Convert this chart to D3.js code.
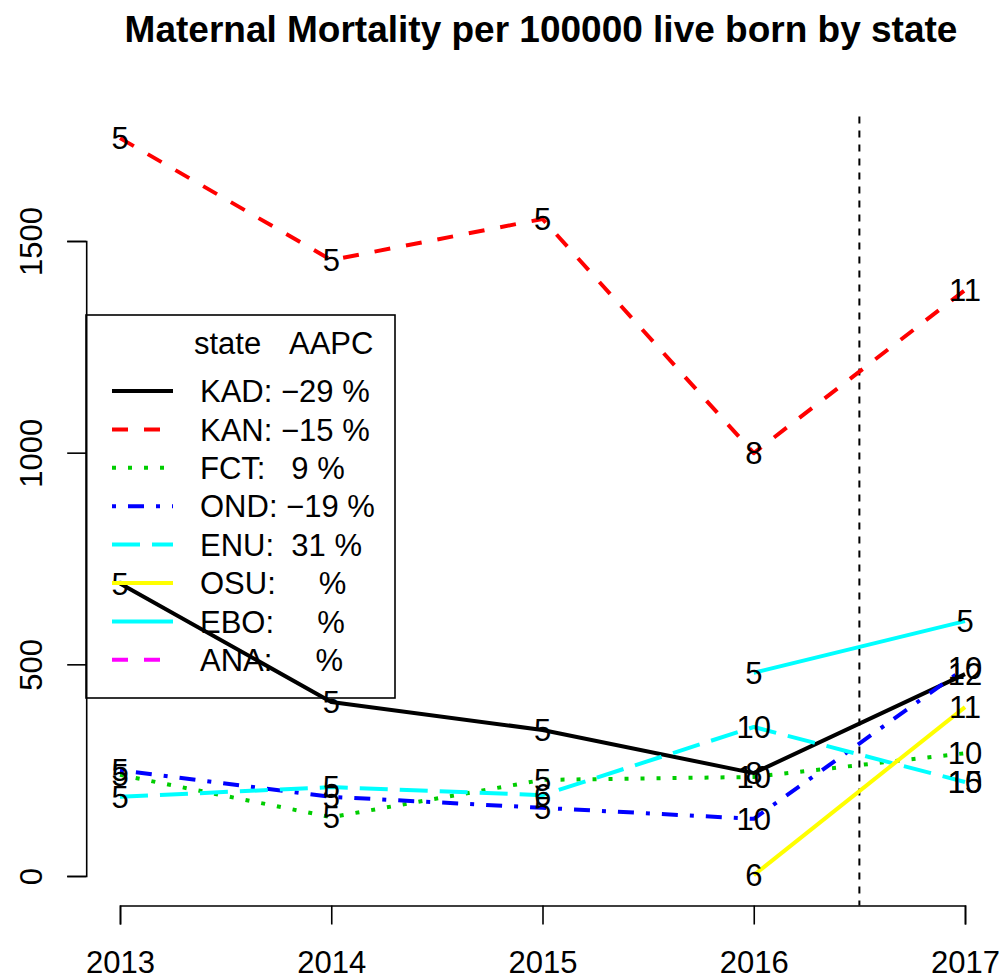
<!DOCTYPE html>
<html>
<head>
<meta charset="utf-8">
<script src="https://cdn.jsdelivr.net/npm/d3@7"></script>
<style>
  body { margin: 0; background: #fff; }
  text { font-family: "Liberation Sans", Arial, sans-serif; }
</style>
</head>
<body>
<div id="chart"></div>
<script>
// Data
const years = [2013, 2014, 2015, 2016, 2017];
const states = ["KAD", "KAN", "FCT", "OND", "ENU", "OSU", "EBO", "ANA"];
const aapc = ["\u221229", "\u221215", "  9", "\u221219", " 31", "   ", "   ", "   "];

const rateKAD = [691, 411, 345, 243, 477];
const rateKAN = [1743, 1455, 1552, 999, 1384];
const rateFCT = [239, 139, 227, 234, 290];
const rateOND = [250, 187, 161, 135, 491];
const rateENU = [187, 210, 191, 352, 222];
const rateOSU = [null, null, null, 2, 399];
const rateEBO = [null, null, null, 480, 602];
const rateANA = [null, null, null, null, 222];

// number of hospitals reporting, printed at each point
const nKAD = [5, 5, 5, 8, 12];
const nKAN = [5, 5, 5, 8, 11];
const nFCT = [5, 5, 5, 10, 10];
const nOND = [5, 5, 5, 10, 10];
const nENU = [5, 5, 6, 10, 15];
const nOSU = [null, null, null, 6, 11];
const nEBO = [null, null, null, 5, 5];
const nANA = [null, null, null, null, 10];

const yTicks = [0, 500, 1000, 1500];
const cutYear = 2016.5;

const rates = [rateKAD, rateKAN, rateFCT, rateOND, rateENU, rateOSU, rateEBO, rateANA];
const counts = [nKAD, nKAN, nFCT, nOND, nENU, nOSU, nEBO, nANA];

// styles (R style: col / lty / lwd)
const colors = ["#000000", "#FF0000", "#00CD00", "#0000FF", "#00FFFF", "#FFFF00", "#00FFFF", "#FF00FF"];
const dashes = ["none", "16,16", "4,12", "4,12,16,12", "28,12", "none", "none", "16,16"];
const lw = 4;

const W = 1002, H = 979;
const svg = d3.select("#chart").append("svg").attr("width", W).attr("height", H);

const x = d3.scaleLinear().domain([2013, 2017]).range([120, 965]);
const y = d3.scaleLinear().domain([0, 1500]).range([876, 241]);

const allVals = rates.flat().filter(v => v != null);
const yMin = Math.min(0, d3.min(allVals)), yMax = d3.max(allVals);
const pad = 0.04 * (yMax - yMin);
const plotTop = y(yMax + pad), plotBottom = y(yMin - pad);
const xPad = 0.04 * (2017 - 2013);
const plotLeft = x(2013 - xPad);

// title
svg.append("text").attr("x", 541).attr("y", 42).attr("text-anchor", "middle")
  .style("font-size", "37px").style("font-weight", "bold")
  .text("Maternal Mortality per 100000 live born by state");

// x axis
const xAxis = svg.append("g").attr("transform", `translate(0,${plotBottom})`)
  .call(d3.axisBottom(x).tickValues(years).tickFormat(d3.format("d")).tickSize(19).tickPadding(26));
xAxis.selectAll("path,line").attr("stroke", "#000").attr("stroke-width", 1.6);
xAxis.selectAll("text").style("font-size", "31px").style("font-family", "Liberation Sans, Arial, sans-serif");

// y axis
const yAxis = svg.append("g").attr("transform", `translate(${plotLeft},0)`)
  .call(d3.axisLeft(y).tickValues(yTicks).tickSize(19).tickFormat(d3.format("d")));
yAxis.selectAll("path,line").attr("stroke", "#000").attr("stroke-width", 1.6);
yAxis.selectAll("text").remove();
yAxis.selectAll(".tick").append("text")
  .attr("transform", "translate(-44,0) rotate(-90)")
  .attr("text-anchor", "middle").attr("fill", "#000")
  .style("font-size", "31px").style("font-family", "Liberation Sans, Arial, sans-serif")
  .text(d => d);

// vertical cut line
svg.append("line").attr("x1", x(cutYear)).attr("x2", x(cutYear))
  .attr("y1", plotTop + 8).attr("y2", plotBottom)
  .attr("stroke", "#000").attr("stroke-width", 2).attr("stroke-dasharray", "7,7");

// series lines
const line = d3.line().defined(d => d.v != null).x(d => x(d.year)).y(d => y(d.v));
states.forEach((s, i) => {
  const pts = years.map((yr, j) => ({ year: yr, v: rates[i][j] }));
  svg.append("path").datum(pts).attr("d", line)
    .attr("fill", "none").attr("stroke", colors[i]).attr("stroke-width", lw)
    .attr("stroke-dasharray", dashes[i]).attr("stroke-linejoin", "round");
});

// count labels at points
states.forEach((s, i) => {
  years.forEach((yr, j) => {
    if (rates[i][j] == null) return;
    svg.append("text").attr("x", x(yr)).attr("y", y(rates[i][j])).attr("dy", "0.36em")
      .attr("text-anchor", "middle").style("font-size", "31px")
      .text(counts[i][j]);
  });
});

// legend
const lg = svg.append("g");
lg.append("rect").attr("x", 86).attr("y", 315).attr("width", 309).attr("height", 383)
  .attr("fill", "none").attr("stroke", "#000").attr("stroke-width", 1.6);
lg.append("text").attr("x", 194).attr("y", 354).style("font-size", "31px").text("state");
lg.append("text").attr("x", 289).attr("y", 354).style("font-size", "31px").text("AAPC");
states.forEach((s, i) => {
  const cy = 391 + i * 38.4;
  lg.append("line").attr("x1", 112).attr("x2", 173).attr("y1", cy).attr("y2", cy)
    .attr("stroke", colors[i]).attr("stroke-width", lw).attr("stroke-dasharray", dashes[i]);
  lg.append("text").attr("x", 200).attr("y", cy).attr("dy", "0.36em")
    .style("font-size", "31px").style("white-space", "pre")
    .text(`${s}: ${aapc[i]} %`);
});
</script>
</body>
</html>
